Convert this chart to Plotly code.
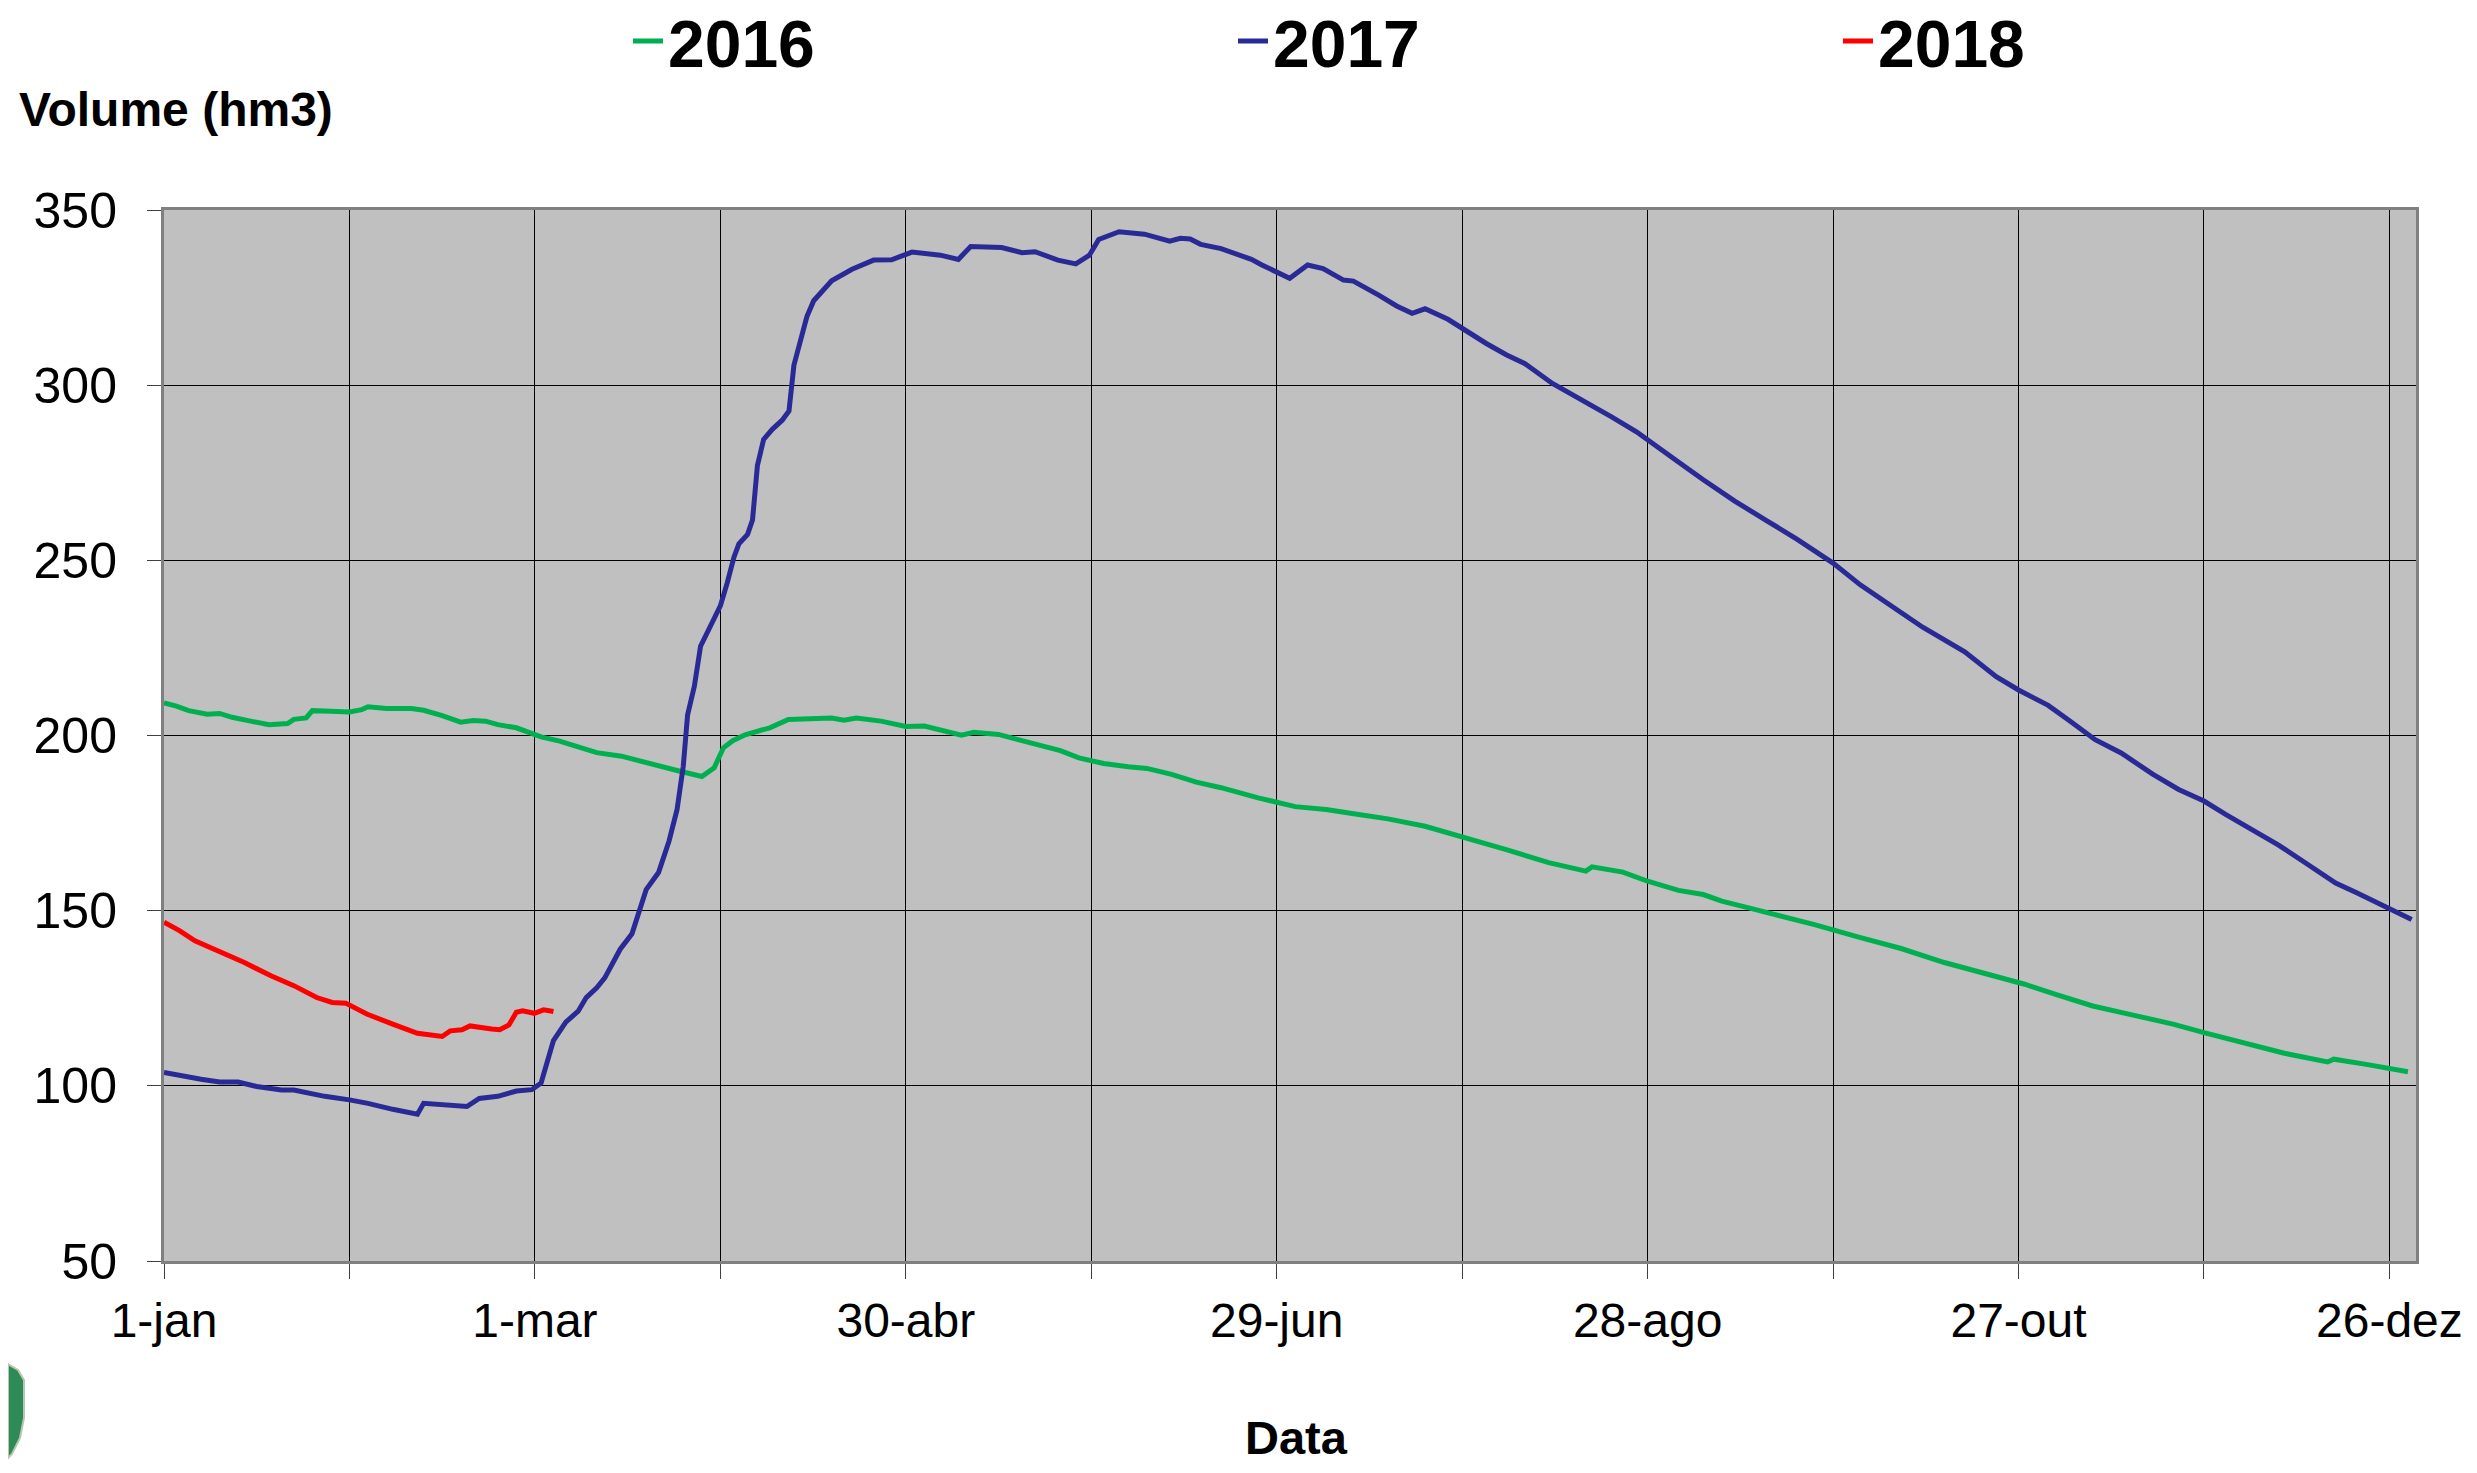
import plotly.graph_objects as go

# ---- data (day of year, volume hm3) ----
days_2016 = [0, 2, 4, 7, 9, 11, 14, 17, 20, 21, 23, 24, 27, 30, 32, 33, 36, 40, 42, 45, 48, 50, 52, 54, 57,
             61, 64, 67, 70, 74, 79, 83, 87, 89, 90.5, 92, 94, 98, 101, 105, 108, 110, 112, 116, 120, 123,
             126, 129, 131, 135, 138, 142, 145, 148, 152, 156, 159, 163, 167, 171, 177, 183, 188, 193, 198,
             204, 210, 217, 224, 230, 231, 236, 240, 245, 249, 252, 257, 262, 267, 274, 281, 288, 294, 301,
             306, 312, 318, 325, 330, 337, 343, 350, 351, 356, 363]
vol_2016 = [209.3, 208.4, 207.1, 206.1, 206.3, 205.2, 204.1, 203.1, 203.4, 204.6, 205.0, 207.1, 206.9, 206.7,
            207.4, 208.2, 207.7, 207.7, 207.2, 205.7, 203.8, 204.3, 204.1, 203.1, 202.2, 199.6, 198.4, 196.8,
            195.1, 194.1, 191.7, 190.0, 188.3, 190.8, 196.5, 198.5, 200.2, 202.2, 204.6, 204.8, 205.0, 204.4,
            205.0, 204.1, 202.6, 202.7, 201.5, 200.1, 200.9, 200.3, 198.9, 197.0, 195.7, 193.6, 192.0, 191.1,
            190.6, 188.9, 186.7, 185.1, 182.2, 179.7, 178.9, 177.5, 176.2, 174.1, 171.1, 167.5, 163.7, 161.3,
            162.5, 161.0, 158.4, 155.8, 154.6, 152.7, 150.5, 148.4, 146.0, 142.5, 139.2, 135.2, 132.3, 129.0,
            126.1, 122.8, 120.4, 117.6, 115.2, 111.9, 109.3, 106.8, 107.6, 106.2, 104.0]

days_2017 = [0, 3, 6, 9, 12, 15, 19, 21, 26, 30, 33, 37, 41, 42, 44, 49, 51, 54, 57, 59.5, 61, 62, 63, 65, 67,
             68.3, 70, 71.3, 73.8, 75.7, 77, 78, 80, 81.7, 83, 84, 84.7, 85.8, 86.8, 88.2, 90, 91.1, 92.2, 93,
             94.4, 95.2, 96, 97, 98.4, 100, 101.1, 101.9, 103, 104, 105.1, 108, 111.3, 114.8, 117.7, 121,
             125.6, 128.5, 130.5, 135.5, 138.8, 140.9, 144.6, 147.5, 149.7, 151.2, 154.5, 158.6, 162.7, 164.4,
             166, 167.7, 171, 173.5, 175.9, 177.6, 182.1, 185, 187.5, 190.8, 192.4, 196.5, 199.4, 201.9, 204,
             207.7, 210.6, 213.9, 217.2, 220.1, 224.6, 229.5, 234.1, 238.2, 241, 244.7, 249, 254.1, 259.1,
             264.2, 270, 274.4, 279.5, 284.5, 291.3, 296.4, 300, 304.8, 308.2, 312.4, 316.6, 321.7, 325.9, 330,
             333.5, 337.8, 342, 346.2, 351.3, 354.7, 360, 363.6]
vol_2017 = [103.8, 102.7, 101.9, 101.1, 101.1, 99.8, 98.8, 98.8, 97.0, 96.0, 95.0, 93.3, 91.9, 95.0, 94.8,
            94.1, 96.4, 97.0, 98.5, 98.9, 100.8, 107.1, 112.9, 118.2, 121.3, 125.2, 128.0, 130.8, 139.0, 143.4,
            151.0, 156.0, 160.9, 169.9, 178.9, 191.2, 205.9, 214.1, 225.5, 230.8, 237.0, 243.5, 250.9, 254.7,
            257.4, 261.5, 277.1, 284.5, 287.4, 290.0, 292.6, 305.7, 313.1, 319.6, 324.1, 329.8, 333.1, 335.7,
            335.8, 338.0, 337.1, 335.9, 339.6, 339.3, 337.8, 338.1, 335.7, 334.6, 337.1, 341.6, 343.8, 343.1,
            341.1, 341.9, 341.7, 340.2, 339.0, 337.3, 335.9, 334.3, 330.5, 334.3, 333.3, 330.0, 329.7, 325.7,
            322.6, 320.5, 321.8, 318.8, 315.5, 311.9, 308.6, 306.2, 300.5, 295.7, 291.0, 286.7, 283.3, 278.4,
            273.0, 266.9, 261.5, 256.0, 249.2, 243.0, 236.9, 230.9, 223.9, 216.8, 213.0, 208.6, 204.3, 198.8,
            195.0, 189.0, 184.6, 181.3, 177.5, 173.1, 168.8, 163.9, 157.9, 155.1, 150.8, 147.5]

days_2018 = [0, 2.5, 5, 8.7, 13, 17.3, 21, 24.7, 27.2, 29.4, 32.8, 37, 41, 45, 46.3, 48.2, 49.5, 53, 54.3,
             55.8, 57, 58, 59.9, 61.4, 63]
vol_2018 = [146.7, 144.3, 141.4, 138.6, 135.2, 131.4, 128.6, 125.2, 123.8, 123.6, 120.5, 117.6, 115.0, 114.1,
            115.7, 116.0, 117.1, 116.2, 116.0, 117.4, 121.0, 121.4, 120.7, 121.7, 121.2]

tick_days = [0, 30, 60, 90, 120, 150, 180, 210, 240, 270, 300, 330, 360]
tick_text = ["1-jan", "", "1-mar", "", "30-abr", "", "29-jun", "", "28-ago", "", "27-out", "", "26-dez"]
y_ticks = [50, 100, 150, 200, 250, 300, 350]

FONT = "Liberation Sans, Arial, Helvetica, sans-serif"

fig = go.Figure()
fig.add_trace(go.Scatter(x=days_2016, y=vol_2016, mode="lines", name="2016",
                         line=dict(color="#00B050", width=5)))
fig.add_trace(go.Scatter(x=days_2017, y=vol_2017, mode="lines", name="2017",
                         line=dict(color="#2A2A96", width=5)))
fig.add_trace(go.Scatter(x=days_2018, y=vol_2018, mode="lines", name="2018",
                         line=dict(color="#FF0000", width=5)))

W, H = 2461, 1457
ML, MT, MR, MB = 156, 202, 53, 204
PW = W - ML - MR
PH = H - MT - MB


def px(x):
    return (x - ML) / PW


def py(y):
    return (MT + PH - y) / PH


# partially visible logo (green shield) at the bottom-left corner
logo_pts = [(0, 1356), (10, 1362), (16, 1372), (16, 1410), (12, 1430), (4, 1446), (0, 1450)]
logo_path = "M " + " L ".join(f"{px(a):.5f},{py(b):.5f}" for a, b in logo_pts) + " Z"

fig.update_layout(
    width=W, height=H,
    margin=dict(l=ML, r=MR, t=MT, b=MB, autoexpand=False),
    paper_bgcolor="white",
    plot_bgcolor="#C0C0C0",
    font=dict(family=FONT, color="black"),
    showlegend=True,
    legend=dict(orientation="h", x=px(620), xanchor="left",
                y=1 + (MT - 33) / PH, yanchor="middle",
                font=dict(family=FONT, size=66, color="black", weight="bold"),
                entrywidth=560, entrywidthmode="pixels", bgcolor="rgba(0,0,0,0)"),
    xaxis=dict(range=[0, 364.3], tickmode="array", tickvals=tick_days, ticktext=tick_text,
               showgrid=True, gridcolor="black", gridwidth=1, zeroline=False,
               ticks="outside", ticklen=15, tickcolor="#404040", tickwidth=1,
               showline=True, linecolor="#808080", linewidth=3, mirror=True,
               tickfont=dict(family=FONT, size=48, color="black"), ticklabelstandoff=0),
    yaxis=dict(range=[50, 350], tickmode="array", tickvals=y_ticks,
               showgrid=True, gridcolor="black", gridwidth=1, zeroline=False,
               ticks="outside", ticklen=14, tickcolor="#404040", tickwidth=1,
               showline=True, linecolor="#808080", linewidth=3, mirror=True,
               tickfont=dict(family=FONT, size=50, color="black"), ticklabelstandoff=20),
    shapes=[dict(type="path", xref="paper", yref="paper", path=logo_path,
                 fillcolor="#2E8B57", line=dict(color="#B8C8B0", width=2), layer="above")],
    annotations=[
        dict(text="<b>Volume (hm3)</b>", xref="paper", yref="paper",
             x=px(9), y=1 + (MT - 102) / PH, xanchor="left", yanchor="middle",
             showarrow=False, font=dict(family=FONT, size=48, color="black")),
        dict(text="<b>Data</b>", xref="paper", yref="paper",
             x=0.503, y=py(1429), xanchor="center", yanchor="middle", borderpad=0,
             showarrow=False, font=dict(family=FONT, size=47, color="black")),
    ],
)

fig.write_html("out.html")
